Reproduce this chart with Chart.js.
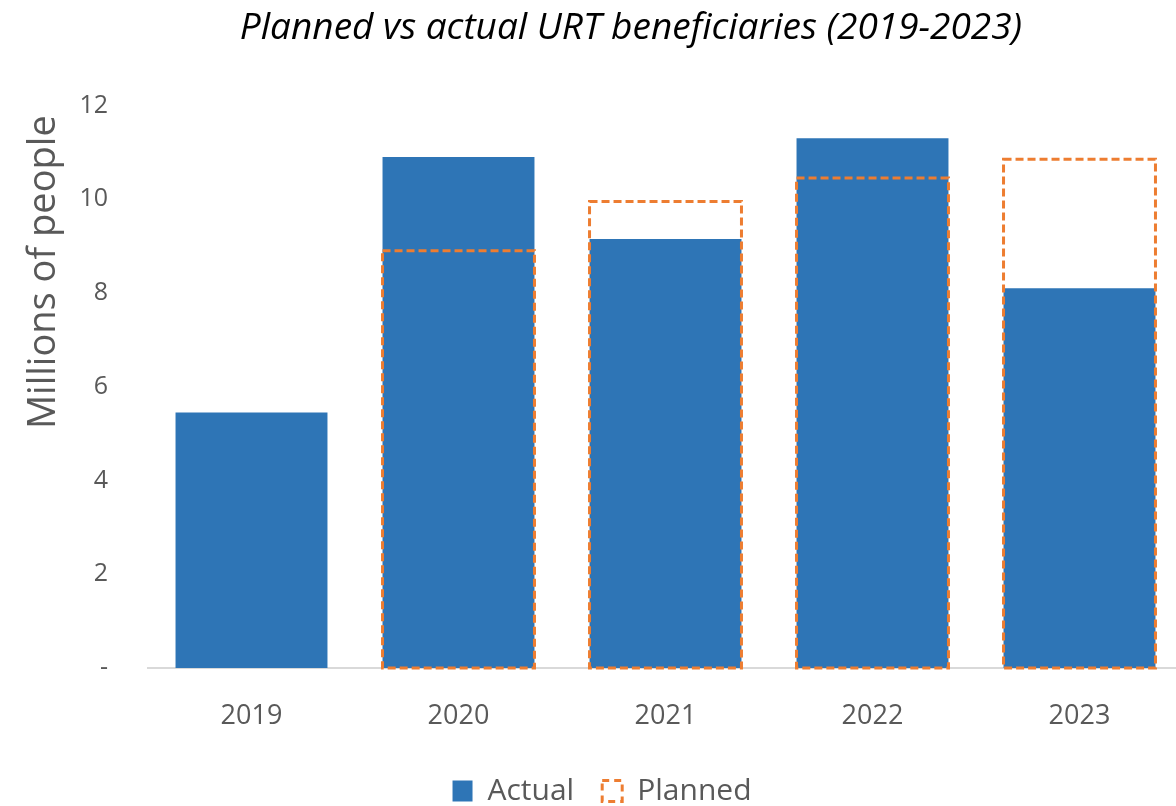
<!DOCTYPE html>
<html>
<head>
<meta charset="utf-8">
<script src="https://cdn.jsdelivr.net/npm/chart.js@4/dist/chart.umd.min.js"></script>
<style>
  html, body { margin: 0; padding: 0; background: #fff; overflow: hidden; }
  #wrap { width: 1184px; height: 806px; }
</style>
</head>
<body>
<div id="wrap"><canvas id="myChart"></canvas></div>
<script>
// data
var years = ['2019', '2020', '2021', '2022', '2023'];
var actual = [5.45, 10.9, 9.15, 11.3, 8.1];
var planned = [null, 8.9, 9.95, 10.45, 10.85];
var yTicks = [0, 2, 4, 6, 8, 10, 12];

var blue = '#2E75B6';
var orange = '#ED7D31';
var grey = '#595959';

// bar borders can't be dashed in chart.js, so stroke the planned bars here
var dashedBars = {
  id: 'dashedBars',
  afterLayout: function(chart) {
    // title sits a bit right of the canvas centre in the original
    chart.titleBlock.left += 29;
    chart.titleBlock.right += 29;
  },
  afterDatasetsDraw: function(chart) {
    var meta = chart.getDatasetMeta(1);
    var ctx = chart.ctx;
    ctx.save();
    ctx.strokeStyle = orange;
    ctx.lineWidth = 3;
    ctx.setLineDash([8, 4]);
    meta.data.forEach(function(bar, i) {
      if (planned[i] == null) return;
      var p = bar.getProps(['x', 'y', 'base', 'width'], true);
      ctx.strokeRect(p.x - p.width / 2, p.y, p.width, p.base - p.y);
    });
    ctx.restore();
  }
};

Chart.defaults.font.family = '"Open Sans", sans-serif';
Chart.defaults.color = grey;

var ctx = document.getElementById('myChart');
var myChart = new Chart(ctx, {
  type: 'bar',
  data: {
    labels: years,
    datasets: [
      {
        label: 'Actual',
        data: actual,
        backgroundColor: blue,
        borderWidth: 0,
        grouped: false,
        categoryPercentage: 1,
        barPercentage: 0.734
      },
      {
        label: 'Planned',
        data: planned,
        backgroundColor: 'rgba(0,0,0,0)',
        borderWidth: 0,
        grouped: false,
        categoryPercentage: 1,
        barPercentage: 0.734
      }
    ]
  },
  options: {
    responsive: true,
    maintainAspectRatio: false,
    animation: false,
    layout: { padding: { left: 21, right: 1, top: 6, bottom: -10 } },
    plugins: {
      title: {
        display: true,
        text: 'Planned vs actual URT beneficiaries (2019-2023)',
        color: '#000',
        font: { size: 37, style: 'italic', weight: 'normal' },
        padding: { top: 0, bottom: 55 }
      },
      legend: {
        position: 'bottom',
        labels: {
          font: { size: 30 },
          color: grey,
          boxWidth: 20,
          boxHeight: 21,
          padding: 28,
          generateLabels: function(chart) {
            return [
              { text: 'Actual', fillStyle: blue, strokeStyle: blue, lineWidth: 0, datasetIndex: 0, fontColor: grey },
              { text: 'Planned', fillStyle: '#fff', strokeStyle: orange, lineWidth: 3, lineDash: [7, 5], datasetIndex: 1, fontColor: grey }
            ];
          }
        }
      },
      tooltip: { enabled: false }
    },
    scales: {
      x: {
        afterFit: function(axis) {
          axis.height = 80;
        },
        grid: { display: false, drawTicks: false },
        border: { display: true, color: '#D9D9D9', width: 2 },
        ticks: { font: { size: 27 }, color: grey, padding: 32 }
      },
      y: {
        min: 0,
        max: 12,
        afterBuildTicks: function(axis) {
          axis.ticks = yTicks.map(function(v) { return { value: v }; });
        },
        afterFit: function(axis) {
          axis.width = 127;
        },
        grid: { display: false, drawTicks: false },
        border: { display: false },
        ticks: {
          font: { size: 25 },
          color: grey,
          padding: 40,
          callback: function(v) { return v === 0 ? '-' : v; }
        },
        title: {
          display: true,
          text: 'Millions of people ',
          align: 'end',
          color: grey,
          font: { size: 38 },
          padding: { top: 0, bottom: 0 }
        }
      }
    }
  },
  plugins: [dashedBars]
});
</script>
</body>
</html>
